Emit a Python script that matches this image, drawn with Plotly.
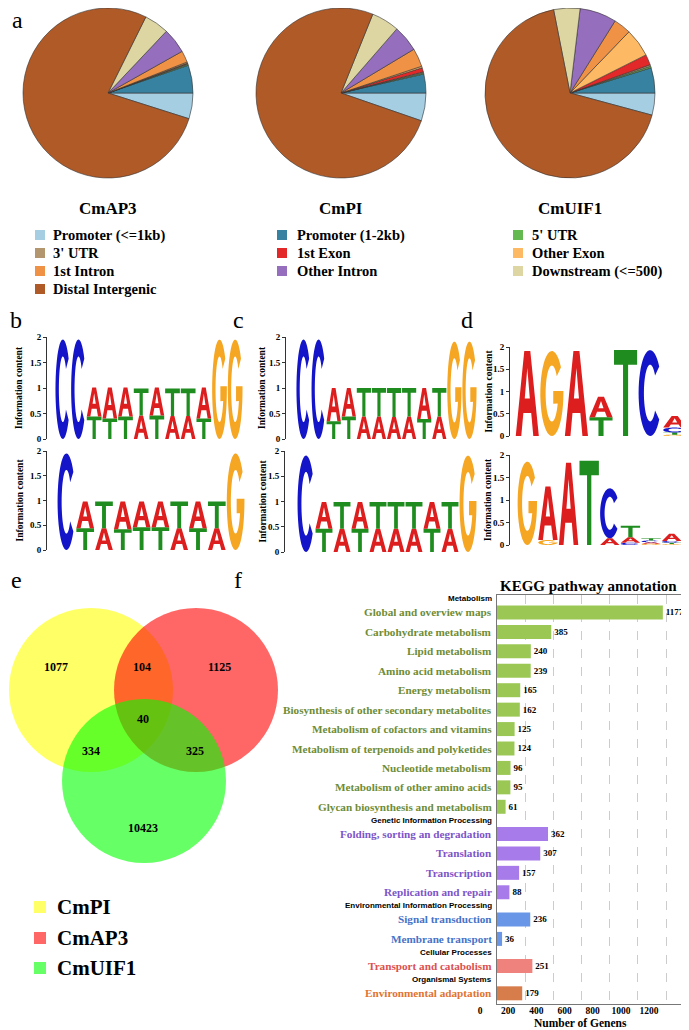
import math
import plotly.graph_objects as go

# page body has an 8px default margin: draw in page pixel coordinates and compensate
OX, OY = 8, 8
FW, FH = 681, 1022
SERIF = "Liberation Serif, Times New Roman, serif"
SANS = "Liberation Sans, Arial, sans-serif"

# ---------------- Panel a data ----------------
genes = ["CmAP3", "CmPI", "CmUIF1"]
feature_labels = ["Promoter (<=1kb)", "Promoter (1-2kb)", "5' UTR", "3' UTR", "1st Exon",
                  "Other Exon", "1st Intron", "Other Intron", "Downstream (<=500)", "Distal Intergenic"]
feature_colors = ["#A6CEE3", "#3782A0", "#64B950", "#B4966E", "#E22828",
                  "#FDB964", "#F09246", "#966EBE", "#DDD5A2", "#B05A28"]
cmap3_pct = [4.9, 5.3, 0.2, 0.15, 0.1, 0.2, 2.2, 4.8, 4.7, 77.45]
cmpi_pct = [5.3, 3.6, 0.2, 0.2, 0.8, 0.3, 3.5, 5.0, 5.3, 75.8]
cmuif1_pct = [4.2, 4.8, 0.3, 0.3, 2.0, 5.4, 3.3, 7.0, 5.0, 67.7]

# ---------------- Panels b-d data (letter, information content), bottom to top ----------------
logo_b1 = [
    [("C", 1.95)], [("C", 1.95)],
    [("T", 0.44), ("A", 0.57)], [("T", 0.40), ("A", 0.61)], [("T", 0.44), ("A", 0.57)],
    [("A", 0.46), ("T", 0.53)], [("T", 0.46), ("A", 0.55)], [("A", 0.45), ("T", 0.54)],
    [("A", 0.45), ("T", 0.54)], [("T", 0.40), ("A", 0.61)],
    [("G", 1.95)], [("G", 1.95)],
]
logo_b2 = [
    [("C", 1.95)],
    [("T", 0.44), ("A", 0.54)], [("A", 0.44), ("T", 0.54)], [("T", 0.42), ("A", 0.56)],
    [("T", 0.46), ("A", 0.52)], [("T", 0.46), ("A", 0.52)], [("A", 0.44), ("T", 0.54)],
    [("T", 0.44), ("A", 0.54)], [("A", 0.44), ("T", 0.54)],
    [("G", 1.95)],
]
logo_c1 = [
    [("C", 1.95)], [("C", 1.95)],
    [("T", 0.35), ("A", 0.65)], [("T", 0.44), ("A", 0.56)],
    [("A", 0.44), ("T", 0.56)], [("A", 0.44), ("T", 0.56)], [("A", 0.43), ("T", 0.57)],
    [("A", 0.44), ("T", 0.56)], [("T", 0.39), ("A", 0.61)], [("A", 0.44), ("T", 0.56)],
    [("G", 1.91)], [("G", 1.91)],
]
logo_c2 = [
    [("C", 1.91)],
    [("T", 0.46), ("A", 0.53)], [("A", 0.46), ("T", 0.53)], [("T", 0.46), ("A", 0.53)],
    [("A", 0.46), ("T", 0.53)], [("A", 0.46), ("T", 0.53)], [("A", 0.46), ("T", 0.53)],
    [("T", 0.46), ("A", 0.53)], [("A", 0.46), ("T", 0.53)],
    [("G", 1.91)],
]
logo_d1 = [
    [("A", 1.91)], [("G", 1.91)], [("A", 1.91)],
    [("T", 0.42), ("A", 0.46)],
    [("T", 1.93)], [("C", 1.93)],
    [("G", 0.03), ("T", 0.05), ("C", 0.11), ("A", 0.26)],
]
logo_d2 = [
    [("G", 1.85)],
    [("G", 0.11), ("A", 1.19)],
    [("A", 1.83)],
    [("T", 1.87)],
    [("A", 0.15), ("C", 1.11)],
    [("C", 0.05), ("A", 0.12), ("T", 0.26)],
    [("G", 0.03), ("A", 0.03), ("C", 0.04), ("T", 0.05)],
    [("G", 0.02), ("T", 0.03), ("C", 0.04), ("A", 0.16)],
]
logo_ticks = [0, 0.5, 1, 1.5, 2]
logo_tick_text = ["0", "0.5", "1", "1.5", "2"]
base_colors = {"A": "#DC1E1E", "C": "#1414C8", "G": "#F5A623", "T": "#1E8C1E"}

# ---------------- Panel e data ----------------
venn_sets = ["CmPI", "CmAP3", "CmUIF1"]
venn_set_colors = ["rgba(255,255,0,0.6)", "rgba(255,0,0,0.6)", "rgba(0,255,0,0.6)"]
venn_regions = ["CmPI only", "CmPI&CmAP3", "CmAP3 only", "all", "CmPI&CmUIF1", "CmAP3&CmUIF1", "CmUIF1 only"]
venn_counts = [1077, 104, 1125, 40, 334, 325, 10423]

# ---------------- Panel f data ----------------
kegg_groups = ["Metabolism", "Genetic Information Processing", "Environmental Information Processing",
               "Cellular Processes", "Organismal Systems"]
metabolism_terms = ["Global and overview maps", "Carbohydrate metabolism", "Lipid metabolism",
                    "Amino acid metabolism", "Energy metabolism",
                    "Biosynthesis of other secondary metabolites", "Metabolism of cofactors and vitamins",
                    "Metabolism of terpenoids and polyketides", "Nucleotide metabolism",
                    "Metabolism of other amino acids", "Glycan biosynthesis and metabolism"]
metabolism_counts = [1177, 385, 240, 239, 165, 162, 125, 124, 96, 95, 61]
genetic_terms = ["Folding, sorting an degradation", "Translation", "Transcription", "Replication and repair"]
genetic_counts = [362, 307, 157, 88]
environmental_terms = ["Signal transduction", "Membrane transport"]
environmental_counts = [236, 36]
cellular_terms = ["Transport and catabolism"]
cellular_counts = [251]
organismal_terms = ["Environmental adaptation"]
organismal_counts = [179]
kegg_bar_colors = ["#9BC855", "#A77BEA", "#6996E6", "#F0827D", "#D77D4B"]
kegg_label_colors = ["#6E8C37", "#7D55C8", "#4673C8", "#DC5050", "#E17332"]
kegg_x_ticks = [0, 200, 400, 600, 800, 1000, 1200]

# =================================================================
def px(x):
    return min(max((x - OX) / FW, 0.0), 1.0)


def py(y):
    return min(max(1 - (y - OY) / FH, 0.0), 1.0)


fig = go.Figure()
shapes = []
annotations = []
axes = {}


def text(x, y, s, size, color="black", family=SERIF, bold=True, xanchor="center",
         yanchor="middle", xref="paper", yref="paper", angle=0):
    annotations.append(dict(x=x, y=y, xref=xref, yref=yref, text=f"<b>{s}</b>" if bold else s,
                            showarrow=False, font=dict(family=family, size=size, color=color),
                            xanchor=xanchor, yanchor=yanchor, textangle=angle))


# panel letters
for lab, (lx, ly) in zip("abcdef", [(17, 20), (16, 320), (238, 320), (467, 320), (16, 580), (238, 580)]):
    text(px(lx), py(ly), lab, 24, bold=False)

# ---------------- Panel a ----------------
pie_cx = [108, 341, 570]
pie_cy, pie_r = 93, 85
for g, vals, cx in zip(genes, [cmap3_pct, cmpi_pct, cmuif1_pct], pie_cx):
    fig.add_trace(go.Pie(values=vals, labels=feature_labels, sort=False, direction="counterclockwise",
                         rotation=90, textinfo="none", showlegend=False,
                         marker=dict(colors=feature_colors, line=dict(color="#333333", width=0.6)),
                         domain=dict(x=[px(cx - pie_r), px(cx + pie_r)], y=[py(pie_cy + pie_r), py(pie_cy - pie_r)])))
    text(px(cx), py(208), g, 17)

leg_sw_x = [35, 277, 513]
leg_tx_x = [51, 295, 530]
leg_rows = [235, 253, 271, 289]
for k, (lab, col) in enumerate(zip(feature_labels, feature_colors)):
    r, c = k // 3, k % 3
    yy = leg_rows[r]
    shapes.append(dict(type="rect", xref="paper", yref="paper", x0=px(leg_sw_x[c]), x1=px(leg_sw_x[c] + 10),
                       y0=py(yy + 5), y1=py(yy - 5), fillcolor=col, line=dict(width=0)))
    text(px(leg_tx_x[c]), py(yy), lab, 14.5, xanchor="left")

# ---------------- Panels b-d (sequence logos) ----------------
def arc(cx, cy, rx, ry, a0, a1, n):
    return [(cx + rx * math.cos(math.radians(a0 + (a1 - a0) * i / n)),
             cy + ry * math.sin(math.radians(a0 + (a1 - a0) * i / n))) for i in range(n + 1)]


GLYPHS = {
    "A": [[(0, 0), (0.37, 1), (0.63, 1), (1, 0), (0.76, 0), (0.67, 0.27), (0.33, 0.27), (0.24, 0)],
          [(0.39, 0.44), (0.61, 0.44), (0.5, 0.8)]],
    "T": [[(0, 1), (1, 1), (1, 0.83), (0.61, 0.83), (0.61, 0), (0.39, 0), (0.39, 0.83), (0, 0.83)]],
    "C": [arc(0.5, 0.5, 0.5, 0.5, 38, 322, 40) + arc(0.5, 0.5, 0.27, 0.33, 322, 38, 40)],
    "G": [arc(0.5, 0.5, 0.5, 0.5, 38, 360, 40) + [(1, 0.53), (0.56, 0.53), (0.56, 0.38)]
          + arc(0.5, 0.5, 0.27, 0.33, 339, 38, 40)],
}


def letter_path(letter, x0, x1, y0, y1):
    parts = []
    for poly in GLYPHS[letter]:
        pts = [(x0 + u * (x1 - x0), y0 + v * (y1 - y0)) for u, v in poly]
        parts.append("M " + " L ".join(f"{a:.4f},{b:.4f}" for a, b in pts) + " Z")
    return " ".join(parts)


logo_panels = [
    (logo_b1, dict(axis=47, start=55, end=243, top=337, bot=439, tx=19)),
    (logo_b2, dict(axis=47, start=57, end=245, top=451, bot=550, tx=19)),
    (logo_c1, dict(axis=286, start=296, end=477, top=337, bot=439, tx=262)),
    (logo_c2, dict(axis=285, start=297, end=477, top=451, bot=552, tx=262)),
    (logo_d1, dict(axis=510, start=515, end=687, top=347, bot=436, tx=488)),
    (logo_d2, dict(axis=510, start=517, end=682, top=455, bot=545, tx=488)),
]
for i, (stacks, L) in enumerate(logo_panels, start=1):
    sfx = "" if i == 1 else str(i)
    n = len(stacks)
    slot = (L["end"] - L["start"]) / n
    x_lo = 0.5 - (L["start"] - L["axis"]) / slot
    axes[f"xaxis{sfx}"] = dict(domain=[px(L["axis"]), px(L["end"])], range=[x_lo, n + 0.5],
                               anchor=f"y{sfx}", visible=False, fixedrange=True, automargin=False)
    axes[f"yaxis{sfx}"] = dict(domain=[py(L["bot"]), py(L["top"])], range=[0, 2], anchor=f"x{sfx}",
                               showline=True, linecolor="#333", linewidth=1, ticks="outside", ticklen=3,
                               tickcolor="#333", tickvals=logo_ticks,
                               ticktext=[f"<b>{t}</b>" for t in logo_tick_text],
                               tickfont=dict(family=SERIF, size=9, color="black"),
                               showgrid=False, zeroline=False, fixedrange=True, automargin=False)
    fig.add_trace(go.Scatter(x=[], y=[], xaxis=f"x{sfx}", yaxis=f"y{sfx}", showlegend=False))
    for j, stack in enumerate(stacks, start=1):
        y0 = 0.0
        for letter, h in stack:
            shapes.append(dict(type="path", xref=f"x{sfx}", yref=f"y{sfx}",
                               path=letter_path(letter, j - 0.47, j + 0.47, y0, y0 + h),
                               fillcolor=base_colors[letter], line=dict(width=0), fillrule="evenodd"))
            y0 += h
    text(px(L["tx"]), py((L["top"] + L["bot"]) / 2), "Information content", 9.5, angle=-90)

# ---------------- Panel e (Venn) ----------------
venn_centers = [(91, 690), (196, 690), (144, 781)]
venn_r = 82
for (cx, cy), col in zip(venn_centers, venn_set_colors):
    shapes.append(dict(type="circle", xref="paper", yref="paper", x0=px(cx - venn_r), x1=px(cx + venn_r),
                       y0=py(cy + venn_r), y1=py(cy - venn_r), fillcolor=col, line=dict(width=0)))
venn_label_pos = [(56, 667), (142, 667), (219, 667), (143, 719), (91, 751), (195, 751), (143, 828)]
for (lx, ly), cnt in zip(venn_label_pos, venn_counts):
    text(px(lx), py(ly), str(cnt), 12)
venn_leg_y = [907, 938, 968]
for name, col, ly in zip(venn_sets, venn_set_colors, venn_leg_y):
    shapes.append(dict(type="rect", xref="paper", yref="paper", x0=px(34), x1=px(46), y0=py(ly + 6),
                       y1=py(ly - 6), fillcolor=col, line=dict(width=0)))
    text(px(55), py(ly), name, 21, xanchor="left")

# ---------------- Panel f (KEGG bars) ----------------
group_terms = [metabolism_terms, genetic_terms, environmental_terms, cellular_terms, organismal_terms]
group_counts = [metabolism_counts, genetic_counts, environmental_counts, cellular_counts, organismal_counts]
ypos = 0.0
last_y = 0.0
for gname, terms, counts, bcol, lcol in zip(kegg_groups, group_terms, group_counts,
                                             kegg_bar_colors, kegg_label_colors):
    text(px(494), ypos, gname, 8, family=SANS, xanchor="right", yref="y7")
    ypos += 0.7
    ys = []
    for t in terms:
        ys.append(ypos)
        text(px(494), ypos, t, 11.2, color=lcol, xanchor="right", yref="y7")
        ypos += 1
    last_y = ys[-1]
    ypos -= 0.3
    fig.add_trace(go.Bar(x=counts, y=ys, orientation="h", width=0.72, marker=dict(color=bcol, line=dict(width=0)),
                         text=[f"<b>{c}</b>" for c in counts], textposition="outside", constraintext="none",
                         textfont=dict(family=SERIF, size=9, color="black"), cliponaxis=False,
                         xaxis="x7", yaxis="y7", showlegend=False, name=gname))

axes["xaxis7"] = dict(domain=[px(497), px(683)], range=[0, 1320], anchor="y7", showline=True, mirror=True,
                      linecolor="#777", linewidth=1, showgrid=True, gridcolor="#cccccc", griddash="dash",
                      gridwidth=0.8, tickvals=kegg_x_ticks, ticktext=[f"<b>{t}</b>" for t in kegg_x_ticks],
                      tickfont=dict(family=SERIF, size=9.5, color="black"), ticks="",
                      ticklabelshift=-17, ticklabelstandoff=-2, zeroline=False, fixedrange=True,
                      automargin=False)
axes["yaxis7"] = dict(domain=[py(1004), py(595)], range=[last_y + 0.55, -0.2], anchor="x7", showline=True,
                      mirror=True, linecolor="#777", linewidth=1, showticklabels=False, showgrid=False,
                      zeroline=False, ticks="", fixedrange=True, automargin=False)
text(px(588), py(586), "KEGG pathway annotation", 15)
text(px(580), py(1023), "Number of Genens", 11.5)

fig.update_layout(width=FW, height=FH, margin=dict(l=0, r=0, t=0, b=0, pad=0, autoexpand=False),
                  paper_bgcolor="white", plot_bgcolor="white", showlegend=False, shapes=shapes,
                  annotations=annotations, bargap=0.2, **axes)
fig.write_html("out.html")
